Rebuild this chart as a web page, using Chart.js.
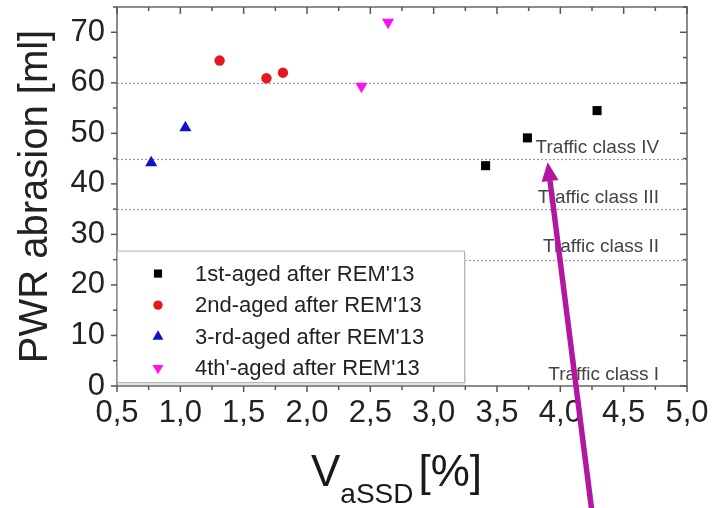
<!DOCTYPE html>
<html><head><meta charset="utf-8">
<script src="https://cdn.jsdelivr.net/npm/chart.js@4/dist/chart.umd.min.js"></script>
<style>html,body{margin:0;padding:0;background:#fff;}#wrap{width:725px;height:508px;position:relative;}</style>
</head><body><div id="wrap"><canvas id="c" width="725" height="508" style="width:725px;height:508px"></canvas></div>
<script>
// ---- data ----
const seriesNames = ["1st-aged after REM'13", "2nd-aged after REM'13", "3-rd-aged after REM'13", "4th'-aged after REM'13"];
const s1x = [3.41, 3.74, 4.29];
const s1y = [43.6, 49.1, 54.5];
const s2x = [1.31, 1.68, 1.81];
const s2y = [64.4, 60.9, 62.0];
const s3x = [0.77, 1.04];
const s3y = [44.2, 51.1];
const s4x = [2.43, 2.64];
const s4y = [59.3, 72.0];
const xTicks = [0.5, 1.0, 1.5, 2.0, 2.5, 3.0, 3.5, 4.0, 4.5, 5.0];
const xMinorTicks = [0.75, 1.25, 1.75, 2.25, 2.75, 3.25, 3.75, 4.25, 4.75];
const yTicks = [0, 10, 20, 30, 40, 50, 60, 70];
const yMinorTicks = [5, 15, 25, 35, 45, 55, 65, 75];
const trafficLimits = [60, 45, 35, 25];
const trafficLabels = ["Traffic class IV", "Traffic class III", "Traffic class II", "Traffic class I"];
const trafficLabelY = [47.1, 37.2, 27.5, 2.3];
const trafficLabelX = 4.78;
const arrowTip = {x: 3.9, y: 44.3};
const arrowTail = {x: 4.25, y: -25};
const xTitleMain = "V", xTitleSub = "aSSD", xTitleUnit = "[%]";
const yTitle = "PWR abrasion [ml]";

const FONT = "'Liberation Sans', Arial, Helvetica, sans-serif";
const colors = ['#000000', '#e3191f', '#1212c8', '#ff10f0'];
const styles = ['rect', 'circle', 'triangle', 'triangle'];
const rots = [0, 0, 0, 180];
const radii = [6.4, 5.2, 7, 7];

function pts(xs, ys) { return xs.map((x, i) => ({x: x, y: ys[i]})); }
const dataSets = [pts(s1x, s1y), pts(s2x, s2y), pts(s3x, s3y), pts(s4x, s4y)];

const decor = {
  id: 'decor',
  beforeDatasetsDraw(chart) {
    const ctx = chart.ctx, xs = chart.scales.x, ys = chart.scales.y, a = chart.chartArea;
    ctx.save();
    ctx.strokeStyle = '#9a9a9a';
    ctx.lineWidth = 1.2;
    ctx.setLineDash([2, 2]);
    trafficLimits.forEach(v => {
      const y = Math.round(ys.getPixelForValue(v)) + 0.5;
      ctx.beginPath(); ctx.moveTo(a.left, y); ctx.lineTo(a.right, y); ctx.stroke();
    });
    ctx.setLineDash([]);
    ctx.fillStyle = '#444';
    ctx.font = '19px ' + FONT;
    ctx.textAlign = 'right'; ctx.textBaseline = 'middle';
    trafficLabels.forEach((t, i) => {
      ctx.fillText(t, xs.getPixelForValue(trafficLabelX), ys.getPixelForValue(trafficLabelY[i]));
    });
    ctx.restore();
  },
  afterDraw(chart) {
    const ctx = chart.ctx, xs = chart.scales.x, ys = chart.scales.y, a = chart.chartArea;
    ctx.save();
    // frame
    ctx.strokeStyle = '#8c8c8c'; ctx.lineWidth = 2;
    ctx.strokeRect(a.left, a.top, a.right - a.left, a.bottom - a.top);
    // ticks
    ctx.strokeStyle = '#555'; ctx.lineWidth = 1.5;
    function tick(x1, y1, x2, y2) { ctx.beginPath(); ctx.moveTo(x1, y1); ctx.lineTo(x2, y2); ctx.stroke(); }
    xTicks.forEach(v => { const x = xs.getPixelForValue(v); tick(x, a.bottom, x, a.bottom + 6); tick(x, a.top, x, a.top + 7); });
    xMinorTicks.forEach(v => { const x = xs.getPixelForValue(v); tick(x, a.bottom, x, a.bottom + 4); tick(x, a.top, x, a.top + 4); });
    yTicks.forEach(v => { const y = ys.getPixelForValue(v); tick(a.left - 6, y, a.left, y); tick(a.right - 7, y, a.right, y); });
    yMinorTicks.forEach(v => { const y = ys.getPixelForValue(v); tick(a.left - 4, y, a.left, y); tick(a.right - 4, y, a.right, y); });
    // legend box
    const lx = a.left, ly = ys.getPixelForValue(26.8), lw = 347, lh = ys.getPixelForValue(0.8) - ly;
    ctx.fillStyle = '#e2e2e2';
    ctx.fillRect(lx + 2, ly + 3, lw, lh);
    ctx.fillStyle = '#fff';
    ctx.fillRect(lx, ly, lw, lh);
    ctx.strokeStyle = '#b5b5b5'; ctx.lineWidth = 1;
    ctx.strokeRect(lx + 0.5, ly + 0.5, lw, lh);
    ctx.font = '22px ' + FONT; ctx.textAlign = 'left'; ctx.textBaseline = 'middle';
    seriesNames.forEach((n, i) => {
      const cy = ly + 23 + i * 31.5;
      ctx.fillStyle = colors[i]; ctx.strokeStyle = colors[i];
      Chart.helpers.drawPoint(ctx, {pointStyle: styles[i], rotation: rots[i], radius: radii[i] * 0.9, borderWidth: 0}, lx + 41, cy);
      ctx.fillStyle = '#222';
      ctx.fillText(n, lx + 78, cy + 1);
    });
    // x title
    ctx.fillStyle = '#1a1a1a'; ctx.textBaseline = 'alphabetic'; ctx.textAlign = 'left';
    ctx.font = '44px ' + FONT;
    const wV = ctx.measureText(xTitleMain).width;
    ctx.font = '28px ' + FONT;
    const wS = ctx.measureText(xTitleSub).width;
    let x0 = 311;
    ctx.font = '44px ' + FONT; ctx.fillText(xTitleMain, x0, 486);
    ctx.font = '28px ' + FONT; ctx.fillText(xTitleSub, x0 + wV, 503);
    ctx.font = '44px ' + FONT; ctx.fillText(xTitleUnit, x0 + wV + wS + 5, 486);
    // arrow
    const tx = xs.getPixelForValue(arrowTip.x), ty = ys.getPixelForValue(arrowTip.y);
    const bx = xs.getPixelForValue(arrowTail.x), by = ys.getPixelForValue(arrowTail.y);
    const ang = Math.atan2(ty - by, tx - bx);
    const hl = 19, hw = 8.5;
    const hx = tx - Math.cos(ang) * hl, hy = ty - Math.sin(ang) * hl;
    ctx.strokeStyle = '#b3169f'; ctx.fillStyle = '#b3169f'; ctx.lineWidth = 5.5;
    ctx.beginPath(); ctx.moveTo(bx, by); ctx.lineTo(hx, hy); ctx.stroke();
    ctx.beginPath(); ctx.moveTo(tx, ty);
    ctx.lineTo(hx + Math.sin(ang) * hw, hy - Math.cos(ang) * hw);
    ctx.lineTo(hx - Math.sin(ang) * hw, hy + Math.cos(ang) * hw);
    ctx.closePath(); ctx.fill();
    ctx.restore();
  }
};

new Chart(document.getElementById('c'), {
  type: 'scatter',
  data: {
    datasets: dataSets.map((d, i) => ({
      label: seriesNames[i], data: d,
      pointStyle: styles[i], rotation: rots[i], pointRadius: radii[i], pointHoverRadius: radii[i],
      backgroundColor: colors[i], borderColor: colors[i], borderWidth: 0
    }))
  },
  options: {
    responsive: false, animation: false, devicePixelRatio: 1,
    layout: {padding: {top: 5, right: 38, left: 0, bottom: 0}},
    plugins: {legend: {display: false}, tooltip: {enabled: false}},
    scales: {
      x: {
        type: 'linear', min: 0.5, max: 5.0,
        afterBuildTicks: s => { s.ticks = xTicks.map(v => ({value: v})); },
        afterFit: s => { s.height = 122; s.paddingLeft = 0; s.paddingRight = 0; },
        grid: {display: false, drawTicks: false}, border: {display: false},
        ticks: {padding: 9, color: '#222', maxRotation: 0, font: {family: FONT, size: 31},
          callback: v => v.toFixed(1).replace('.', ',')}
      },
      y: {
        type: 'linear', min: 0, max: 75,
        afterBuildTicks: s => { s.ticks = yTicks.map(v => ({value: v})); },
        afterFit: s => { s.width = 117; s.paddingTop = 0; s.paddingBottom = 0; },
        grid: {display: false, drawTicks: false}, border: {display: false},
        ticks: {padding: 12, color: '#222', font: {family: FONT, size: 31}},
        title: {display: true, text: yTitle, color: '#222', font: {family: FONT, size: 40}, padding: {top: 12, bottom: 0}}
      }
    }
  },
  plugins: [decor]
});
</script></body></html>
